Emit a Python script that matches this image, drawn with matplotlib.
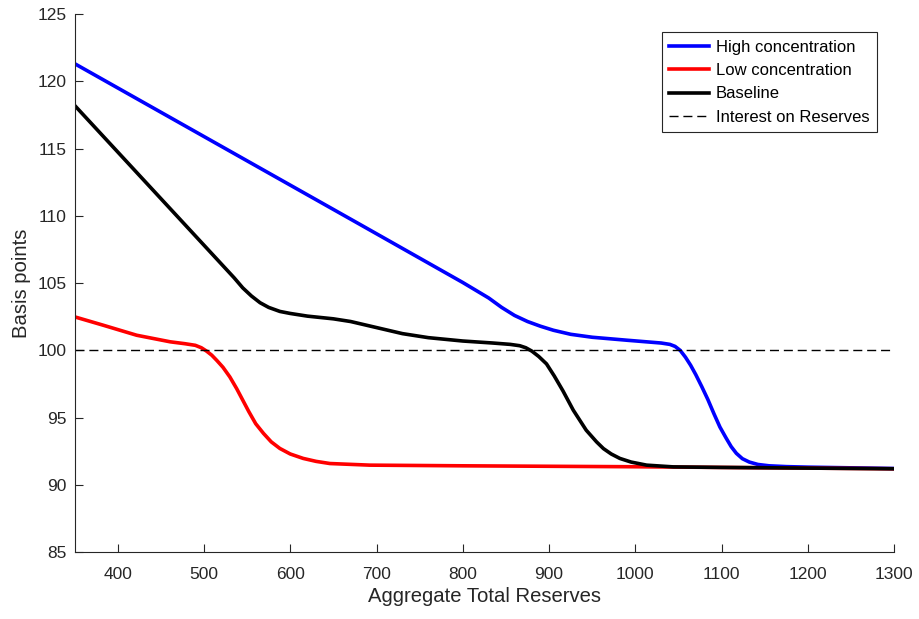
import numpy as np
import matplotlib
matplotlib.use('Agg')
import matplotlib.pyplot as plt

plt.rcParams['font.family'] = ['Liberation Sans', 'DejaVu Sans']

# valori
high_x = [350, 680, 800, 830, 845, 860, 875, 890, 905, 925, 950, 990, 1030, 1040, 1046,
          1052, 1058, 1064, 1070, 1077, 1084, 1091, 1098, 1105, 1111, 1117, 1124, 1132,
          1142, 1155, 1175, 1200, 1250, 1300]
high_y = [121.33, 109.40, 105.05, 103.9, 103.2, 102.6, 102.15, 101.8, 101.5, 101.2, 100.98,
          100.76, 100.55, 100.45, 100.3, 100.0, 99.5, 98.9, 98.2, 97.3, 96.35, 95.3, 94.3,
          93.5, 92.85, 92.35, 91.95, 91.7, 91.52, 91.42, 91.36, 91.32, 91.27, 91.22]

base_x = [350, 535, 545, 555, 565, 575, 588, 600, 620, 650, 670, 690, 710, 730, 760, 800,
          835, 855, 866, 873, 880, 888, 897, 906, 916, 928, 943, 955, 963, 972, 982, 995,
          1013, 1044, 1100, 1200, 1300]
base_y = [118.23, 105.4, 104.65, 104.05, 103.55, 103.2, 102.9, 102.75, 102.55, 102.35,
          102.15, 101.85, 101.55, 101.25, 100.95, 100.7, 100.55, 100.45, 100.35, 100.2, 99.95,
          99.55, 99.0, 98.1, 97.0, 95.56, 94.07, 93.2, 92.7, 92.3, 91.97, 91.7, 91.47, 91.34,
          91.3, 91.25, 91.2]

low_x = [350, 383, 422, 461, 478, 490, 497, 503, 509, 515, 522, 530, 538, 545, 552, 560,
         569, 578, 588, 600, 615, 630, 646, 692, 800, 1000, 1300]
low_y = [102.5, 101.88, 101.13, 100.64, 100.5, 100.38, 100.2, 99.95, 99.65, 99.25, 98.75,
         98.03, 97.15, 96.3, 95.45, 94.55, 93.83, 93.2, 92.71, 92.3, 91.97, 91.75, 91.59,
         91.47, 91.42, 91.35, 91.2]

ior = 100

fig = plt.figure(figsize=(9.2, 6.19), dpi=100)
ax = fig.add_axes([0.081, 0.108, 0.891, 0.869])

lw = 2.6
ax.plot(high_x, high_y, c='#0000ff', lw=lw, label='High concentration')
ax.plot(low_x, low_y, c='#ff0000', lw=lw, label='Low concentration')
ax.plot(base_x, base_y, c='black', lw=lw, label='Baseline')
ax.axhline(ior, c='black', lw=1, ls=(0, (6.5, 3.5)), label='Interest on Reserves')

ax.set_xlim(350, 1300)
ax.set_ylim(85, 125)
ax.set_xticks(np.arange(400, 1301, 100))
ax.set_yticks(np.arange(85, 126, 5))

ax.set_xlabel('Aggregate Total Reserves', fontsize=14.6, color='#262626', labelpad=3)
ax.set_ylabel('Basis points', fontsize=14.6, color='#262626', labelpad=5)

for s in ['top', 'right']:
    ax.spines[s].set_visible(False)
for s in ['left', 'bottom']:
    ax.spines[s].set_color('#262626')
    ax.spines[s].set_linewidth(0.8)
ax.tick_params(direction='in', length=6, width=0.8, color='#262626',
               labelsize=12.5, labelcolor='#262626')
ax.tick_params(axis='x', pad=11)
ax.tick_params(axis='y', pad=5.5)

leg = ax.legend(loc='upper right', bbox_to_anchor=(0.979, 0.9665), fontsize=12,
                fancybox=False, framealpha=1, edgecolor='#262626', handlelength=2.4,
                borderpad=0.45, labelspacing=0.5, handletextpad=0.4, borderaxespad=0)
leg.get_frame().set_linewidth(0.8)

fig.savefig('out.png', dpi=100)
